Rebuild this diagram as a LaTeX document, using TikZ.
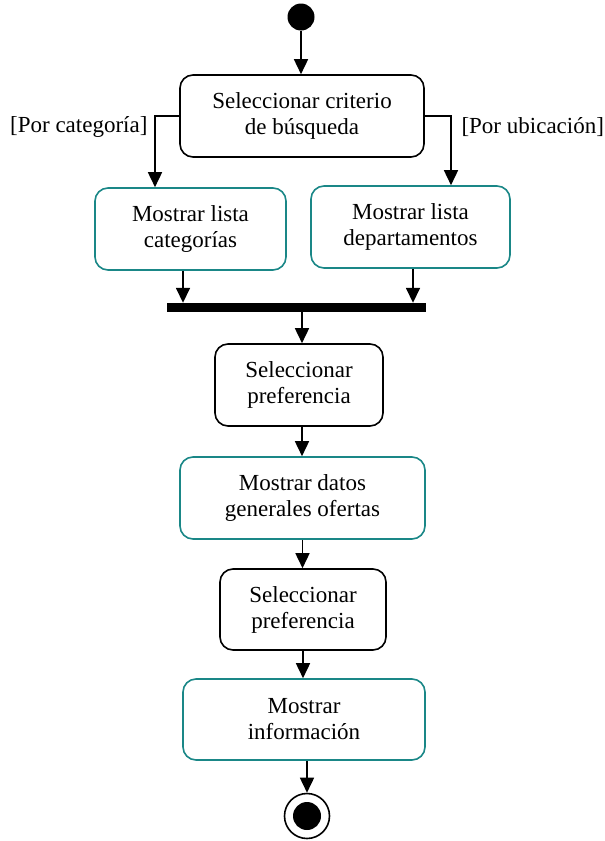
\documentclass[tikz,border=0pt]{standalone}
\usepackage{fontspec}
\setmainfont{Liberation Serif}
\usetikzlibrary{arrows.meta}
\definecolor{tealb}{RGB}{26,135,135}
\begin{document}
\begin{tikzpicture}[x=1pt,y=-1pt,
  every node/.style={font=\fontsize{23}{26}\selectfont},
  act/.style={draw=black,line width=1.6pt,rounded corners=13pt,align=center,inner sep=0pt},
  actt/.style={act,draw=tealb},
  flow/.style={line width=1.6pt,-{Triangle[width=14pt,length=15pt]}}]
\useasboundingbox (0,0) rectangle (605,841);
\node[circle,fill=black,minimum size=27pt,inner sep=0pt] (start) at (301,17) {};
\node[act,minimum width=244pt,minimum height=82pt] (b1) at (302,116) {Seleccionar criterio\\de búsqueda};
\node[actt,minimum width=191pt,minimum height=82pt] (b2) at (190.5,229) {Mostrar lista\\categorías};
\node[actt,minimum width=199pt,minimum height=82pt] (b3) at (410.5,227) {Mostrar lista\\departamentos};
\node[fill=black,minimum width=259pt,minimum height=9pt,inner sep=0pt] (bar) at (296.5,307.5) {};
\node[act,minimum width=168pt,minimum height=82pt] (b4) at (299,385) {Seleccionar\\preferencia};
\node[actt,minimum width=245pt,minimum height=82pt] (b5) at (302.5,498) {Mostrar datos\\generales ofertas};
\node[act,minimum width=166pt,minimum height=81pt] (b6) at (303,609.5) {Seleccionar\\preferencia};
\node[actt,minimum width=242pt,minimum height=81pt] (b7) at (304,719.5) {Mostrar\\información};
\node[circle,draw=black,line width=1.6pt,minimum size=45pt,inner sep=0pt] (end) at (307,816) {};
\node[circle,fill=black,minimum size=28pt,inner sep=0pt] (endin) at (end.center) {};
\node[anchor=east] (lc) at (151,127) {[Por categoría]};
\node[anchor=west] (lu) at (458,127) {[Por ubicación]};
\draw[flow] (start.south) -- (start.south |- b1.north);
\draw[flow] (b1.west) -| ([xshift=-35.5pt]b2.north);
\draw[flow] (b1.east) -| ([xshift=40.5pt]b3.north);
\draw[flow] ([xshift=-7.5pt]b2.south) -- ([xshift=-7.5pt]b2.south |- bar.north);
\draw[flow] ([xshift=2.5pt]b3.south) -- ([xshift=2.5pt]b3.south |- bar.north);
\draw[flow] ([xshift=3pt]b4.north |- bar.south) -- ([xshift=3pt]b4.north);
\draw[flow] ([xshift=3pt]b4.south) -- ([xshift=3pt]b4.south |- b5.north);
\draw[flow] (b5.south) -- (b5.south |- b6.north);
\draw[flow] (b6.south) -- (b6.south |- b7.north);
\draw[flow] ([xshift=3pt]b7.south) -- ([xshift=3pt]b7.south |- end.north);
\end{tikzpicture}
\end{document}
